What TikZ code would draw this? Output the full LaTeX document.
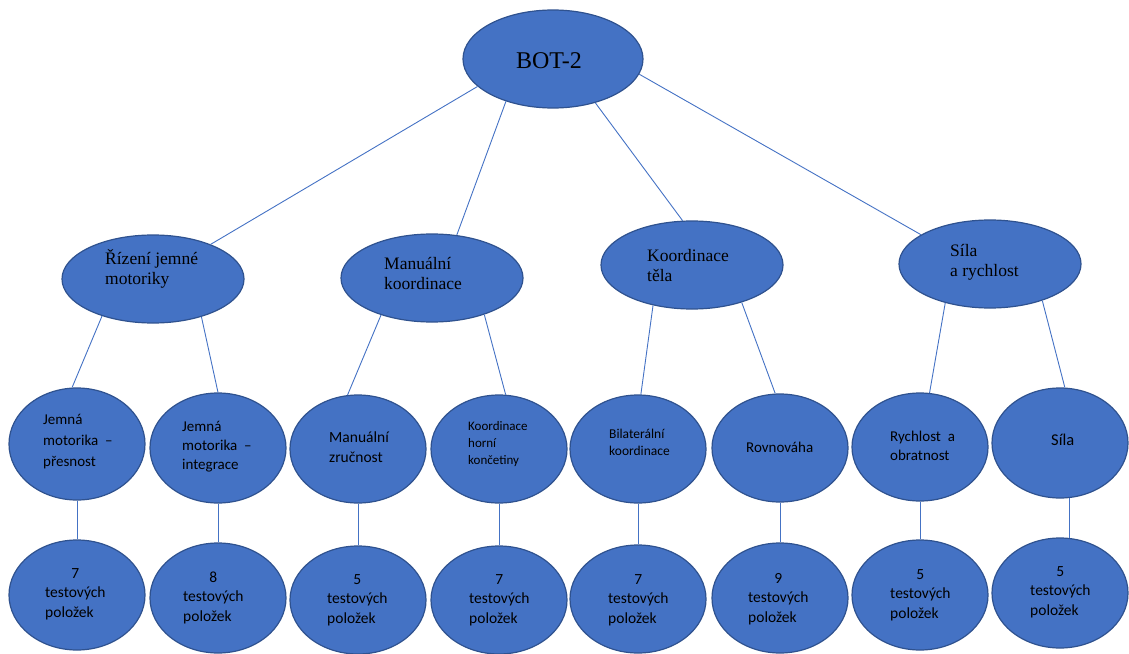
\documentclass[tikz,border=0pt]{standalone}
\usepackage{fontspec}
\setmainfont{Liberation Serif}
\newfontfamily\calib{Carlito}
\usetikzlibrary{shapes.geometric}
\definecolor{fillb}{HTML}{4472C4}
\definecolor{edgeb}{HTML}{2F528F}
\definecolor{lineb}{HTML}{4472C4}
\newcommand{\cntlines}[1]{\begin{tabular}{@{}l@{}}\multicolumn{1}{@{}c@{}}{#1}\\testových\\položek\end{tabular}}
\begin{document}
\begin{tikzpicture}[x=1pt,y=-1pt,
  ell/.style={ellipse, fill=fillb, draw=edgeb, line width=1.2pt, inner sep=0pt},
  top/.style={ell, minimum width=180pt, minimum height=98pt},
  mid/.style={ell, minimum width=182pt, minimum height=88pt},
  low/.style={ell, minimum width=136pt, minimum height=110pt},
  conn/.style={draw=lineb, line width=0.9pt},
  ttop/.style={inner sep=0pt, text=black, font=\fontsize{24}{28}\selectfont},
  tmid/.style={anchor=west, align=left, inner sep=0pt, text=black, font=\fontsize{17.5}{20}\selectfont},
  tlow/.style={anchor=west, align=left, inner sep=0pt, text=black, font=\calib\fontsize{15}{20}\selectfont},
  tcnt/.style={anchor=west, inner sep=0pt, text=black, font=\calib\fontsize{15.5}{19.5}\selectfont}]
\useasboundingbox (0,0) rectangle (1129,653);

% top
\node[top] (bot) at (553,59) {};
\node[ttop] (botT) at (549,61) {BOT-2};

% level 2
\node[mid] (a) at (153,279) {};
\node[mid] (b) at (432,278) {};
\node[mid] (c) at (692,265) {};
\node[mid] (d) at (990,264) {};
\node[tmid] (aT) at (105,269) {Řízení jemné\\motoriky};
\node[tmid] (bT) at (384,273) {Manuální\\koordinace};
\node[tmid] (cT) at (647,266) {Koordinace\\těla};
\node[tmid] (dT) at (950,262) {Síla\\a rychlost};

% level 3
\node[low, minimum height=112pt] (a1) at (77,444) {};
\node[low] (a2) at (218,448) {};
\node[low, minimum height=108pt] (b1) at (358,449) {};
\node[low, minimum height=108pt] (b2) at (499,449) {};
\node[low, minimum height=108pt] (c1) at (638,449) {};
\node[low, minimum height=108pt] (c2) at (780,448) {};
\node[low, minimum height=108pt] (d1) at (920,447) {};
\node[low] (d2) at (1060,443) {};
\node[tlow, font=\calib\fontsize{15}{21}\selectfont] (a1T) at (43,442) {Jemná\\motorika~~–\\přesnost};
\node[tlow, font=\calib\fontsize{15}{19}\selectfont] (a2T) at (182,447) {Jemná\\motorika~~–\\integrace};
\node[tlow, font=\calib\fontsize{15.5}{20}\selectfont] (b1T) at (329,447) {Manuální\\zručnost};
\node[tlow, font=\calib\fontsize{13}{17}\selectfont] (b2T) at (468,444) {Koordinace\\horní\\končetiny};
\node[tlow, font=\calib\fontsize{13.5}{17}\selectfont] (c1T) at (609,442) {Bilaterální\\koordinace};
\node[tlow] (c2T) at (746,447) {Rovnováha};
\node[tlow, font=\calib\fontsize{15}{19}\selectfont] (d1T) at (890,446) {Rychlost~~a\\obratnost};
\node[tlow, font=\calib\fontsize{16.5}{19}\selectfont] (d2T) at (1051,440) {Síla};

% level 4
\node[low] (a1n) at (77,595) {};
\node[low] (a2n) at (218,598) {};
\node[low, minimum height=108pt] (b1n) at (358,600) {};
\node[low, minimum height=108pt] (b2n) at (499,600) {};
\node[low, minimum height=108pt] (c1n) at (638,599) {};
\node[low] (c2n) at (780,598) {};
\node[low] (d1n) at (920,595) {};
\node[low] (d2n) at (1060,593) {};
\node[tcnt] (a1nT) at (45,594) {\cntlines{7}};
\node[tcnt] (a2nT) at (183,598) {\cntlines{8}};
\node[tcnt] (b1nT) at (327,600) {\cntlines{5}};
\node[tcnt] (b2nT) at (469,600) {\cntlines{7}};
\node[tcnt] (c1nT) at (608,600) {\cntlines{7}};
\node[tcnt] (c2nT) at (748,599) {\cntlines{9}};
\node[tcnt] (d1nT) at (890,595) {\cntlines{5}};
\node[tcnt] (d2nT) at (1030,592) {\cntlines{5}};

% connectors top -> level 2
\draw[conn] (bot.200.9) -- (a.31.5);
\draw[conn] (bot.222.5) -- (b.60.3);
\draw[conn] (bot.314.3) -- (c.102.8);
\draw[conn] (bot.350.9) -- (d.157.8);

% level 2 -> level 3
\draw[conn] (a.216) -- (a1.95.2);
\draw[conn] (a.322.4) -- (a2.90);
\draw[conn] (b.216.9) -- (b1.101.7);
\draw[conn] (b.325.1) -- (b2.83.5);
\draw[conn] (c.226.3) -- (c1.87.8);
\draw[conn] (c.323.9) -- (c2.95.5);
\draw[conn] (d.221.3) -- (d1.80.2);
\draw[conn] (d.325.1) -- (d2.85.8);

% level 3 -> level 4
\draw[conn] (a1.south) -- (a1n.north);
\draw[conn] (a2.south) -- (a2n.north);
\draw[conn] (b1.south) -- (b1n.north);
\draw[conn] (b2.south) -- (b2n.north);
\draw[conn] (c1.south) -- (c1n.north);
\draw[conn] (c2.south) -- (c2n.north);
\draw[conn] (d1.south) -- (d1n.north);
\draw[conn] (d2.280) -- (d2n.80);
\end{tikzpicture}
\end{document}
